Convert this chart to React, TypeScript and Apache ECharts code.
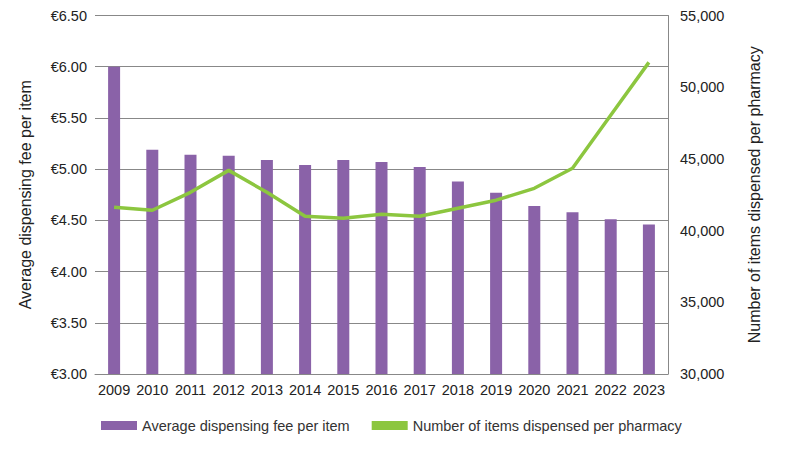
import React, { useEffect, useRef } from "react";
import * as echarts from "echarts";

const years = ["2009","2010","2011","2012","2013","2014","2015","2016","2017","2018","2019","2020","2021","2022","2023"];
const fees = [6.0,5.19,5.14,5.13,5.09,5.04,5.09,5.07,5.02,4.88,4.77,4.64,4.58,4.51,4.46];
const items = [41630,41420,42670,44200,42670,41000,40860,41140,41000,41560,42120,42950,44350,48040,51730];

export default function App() {
  const ref = useRef<HTMLDivElement>(null);
  useEffect(() => {
    const chart = echarts.init(ref.current!, null, { renderer: "svg" });
    const font = "Liberation Sans";
    chart.setOption({
      animation: false,
      textStyle: { fontFamily: font },
      grid: { left: 87, right: 129, top: 7, bottom: 67 },
      legend: {
        top: 405, left: 88, itemGap: 22,
        textStyle: { fontFamily: font, fontSize: 14.5, color: "#333" },
        data: [
          { name: "Average dispensing fee per item", icon: "rect", itemStyle: { color: "#8a62a8" } },
          { name: "Number of items dispensed per pharmacy", icon: "rect", itemStyle: { color: "#8cc63f" } },
        ],
        itemWidth: 36, itemHeight: 9,
      },
      xAxis: {
        type: "category", data: years,
        axisLine: { lineStyle: { color: "#888" } }, axisTick: { show: false },
        axisLabel: { color: "#222", fontSize: 14.5, fontFamily: font, interval: 0 },
      },
      yAxis: [
        {
          type: "value", min: 3, max: 6.5, interval: 0.5,
          name: "Average dispensing fee per item", nameLocation: "middle", nameGap: 62,
          nameTextStyle: { fontSize: 16, color: "#222", fontFamily: font },
          axisLabel: { formatter: (v: number) => "€" + v.toFixed(2), color: "#222", fontSize: 14.5, fontFamily: font },
          splitLine: { lineStyle: { color: "#888" } },
        },
        {
          type: "value", min: 30000, max: 55000, interval: 5000,
          name: "Number of items dispensed per pharmacy", nameLocation: "middle", nameGap: 78, nameRotate: 90,
          nameTextStyle: { fontSize: 16, color: "#222", fontFamily: font },
          axisLine: { show: true, lineStyle: { color: "#888" } },
          axisLabel: { formatter: (v: number) => v.toLocaleString("en-US"), color: "#222", fontSize: 14.5, fontFamily: font, margin: 12 },
          splitLine: { show: false },
        },
      ],
      series: [
        { name: "Average dispensing fee per item", type: "bar", data: fees, barWidth: 12, itemStyle: { color: "#8a62a8" } },
        { name: "Number of items dispensed per pharmacy", type: "line", yAxisIndex: 1, data: items, symbol: "none",
          lineStyle: { color: "#8cc63f", width: 3.5 }, itemStyle: { color: "#8cc63f" } },
      ],
    });
    return () => chart.dispose();
  }, []);
  return <div ref={ref} style={{ width: 789, height: 433 }} />;
}
